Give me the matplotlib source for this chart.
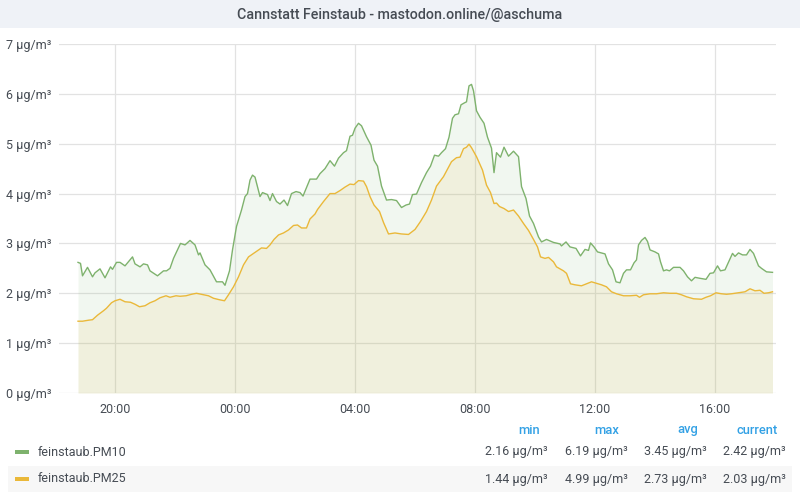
import matplotlib
matplotlib.use("Agg")
import matplotlib.pyplot as plt
from matplotlib.patches import Rectangle

# ---------------- data ----------------
pm10_times = ["18:46", "18:51", "18:55", "19:05", "19:15", "19:20", "19:30", "19:40", "19:51", "19:55",
              "20:03", "20:10", "20:20", "20:35", "20:40", "20:50", "20:57", "21:05", "21:10", "21:25",
              "21:37", "21:43", "21:50", "21:57", "22:11", "22:20", "22:30", "22:40", "22:47", "22:50",
              "23:00", "23:10", "23:23", "23:35", "23:40", "23:49", "23:55", "00:03", "00:13", "00:20",
              "00:25", "00:30", "00:35", "00:40", "00:50", "00:55", "01:05", "01:10", "01:15", "01:23",
              "01:30", "01:38", "01:45", "01:53", "02:02", "02:10", "02:16", "02:23", "02:30", "02:43",
              "02:50", "03:00", "03:10", "03:19", "03:27", "03:37", "03:43", "03:50", "03:55", "04:00",
              "04:07", "04:13", "04:23", "04:32", "04:38", "04:45", "04:53", "05:03", "05:13", "05:23",
              "05:33", "05:42", "05:49", "05:55", "06:03", "06:13", "06:23", "06:31", "06:39", "06:47",
              "06:53", "07:01", "07:08", "07:15", "07:20", "07:27", "07:32", "07:39", "07:43", "07:48",
              "07:53", "07:57", "08:03", "08:10", "08:18", "08:25", "08:33", "08:38", "08:43", "08:51",
              "08:58", "09:07", "09:17", "09:27", "09:33", "09:42", "09:49", "09:57", "10:07", "10:13",
              "10:23", "10:37", "10:50", "10:53", "11:02", "11:10", "11:22", "11:31", "11:40", "11:47",
              "11:51", "11:58", "12:05", "12:20", "12:27", "12:35", "12:42", "12:50", "12:57", "13:03",
              "13:11", "13:18", "13:23", "13:27", "13:33", "13:40", "13:45", "13:50", "14:00", "14:07",
              "14:11", "14:17", "14:23", "14:29", "14:37", "14:50", "14:57", "15:05", "15:13", "15:20",
              "15:30", "15:42", "15:50", "15:57", "16:05", "16:11", "16:20", "16:29", "16:35", "16:40",
              "16:47", "16:55", "17:03", "17:10", "17:17", "17:27", "17:33", "17:43", "17:55"]
pm10_values = [2.62, 2.60, 2.35, 2.52, 2.33, 2.41, 2.49, 2.31, 2.53, 2.48,
               2.62, 2.62, 2.55, 2.73, 2.59, 2.53, 2.59, 2.57, 2.45, 2.35,
               2.45, 2.45, 2.50, 2.70, 3.00, 2.97, 3.06, 2.97, 2.77, 2.81,
               2.57, 2.47, 2.23, 2.23, 2.16, 2.45, 2.87, 3.34, 3.67, 3.94,
               4.00, 4.27, 4.37, 4.33, 3.94, 4.02, 3.98, 3.86, 4.00, 3.84,
               3.79, 3.87, 3.76, 4.00, 4.04, 4.02, 3.95, 4.12, 4.29, 4.29,
               4.40, 4.50, 4.66, 4.55, 4.71, 4.82, 4.86, 5.15, 5.17, 5.31,
               5.41, 5.36, 5.14, 4.97, 4.67, 4.55, 4.15, 3.87, 3.88, 3.86,
               3.72, 3.77, 3.79, 3.98, 3.99, 4.22, 4.42, 4.55, 4.77, 4.75,
               4.82, 4.90, 5.13, 5.51, 5.58, 5.60, 5.78, 5.82, 5.84, 6.16,
               6.19, 6.06, 5.66, 5.53, 5.41, 5.13, 4.91, 4.42, 4.82, 4.73,
               4.93, 4.75, 4.85, 4.74, 4.14, 3.90, 3.55, 3.40, 3.13, 3.03,
               3.08, 3.02, 2.99, 2.95, 3.03, 2.93, 2.90, 2.75, 2.88, 2.86,
               3.01, 2.93, 2.83, 2.79, 2.59, 2.47, 2.23, 2.21, 2.40, 2.47,
               2.47, 2.61, 2.67, 2.97, 3.06, 3.12, 3.04, 2.87, 2.83, 2.79,
               2.63, 2.45, 2.47, 2.45, 2.52, 2.52, 2.45, 2.33, 2.25, 2.32,
               2.30, 2.28, 2.40, 2.41, 2.55, 2.45, 2.47, 2.67, 2.80, 2.74,
               2.81, 2.77, 2.77, 2.88, 2.80, 2.55, 2.50, 2.43, 2.42]

pm25_times = ["18:46", "18:55", "19:07", "19:15", "19:25", "19:37", "19:43", "19:53", "20:00", "20:10",
              "20:20", "20:31", "20:40", "20:49", "21:00", "21:10", "21:20", "21:30", "21:42", "21:50",
              "22:02", "22:10", "22:22", "22:33", "22:43", "22:53", "23:07", "23:17", "23:29", "23:39",
              "23:47", "23:57", "00:07", "00:17", "00:27", "00:37", "00:47", "00:53", "01:03", "01:10",
              "01:18", "01:27", "01:37", "01:47", "01:57", "02:05", "02:13", "02:23", "02:30", "02:40",
              "02:45", "02:57", "03:10", "03:20", "03:30", "03:40", "03:50", "03:58", "04:07", "04:17",
              "04:23", "04:30", "04:38", "04:49", "04:57", "05:07", "05:20", "05:33", "05:47", "06:00",
              "06:11", "06:23", "06:33", "06:43", "06:57", "07:13", "07:23", "07:30", "07:37", "07:43",
              "07:48", "07:53", "08:03", "08:15", "08:23", "08:31", "08:38", "08:43", "08:49", "08:58",
              "09:07", "09:17", "09:27", "09:37", "09:47", "09:57", "10:05", "10:11", "10:20", "10:27",
              "10:37", "10:43", "10:57", "11:03", "11:11", "11:20", "11:33", "11:43", "11:53", "12:03",
              "12:13", "12:23", "12:33", "12:43", "12:57", "13:10", "13:23", "13:29", "13:37", "13:50",
              "14:03", "14:17", "14:30", "14:43", "14:53", "15:03", "15:17", "15:33", "15:42", "15:51",
              "16:02", "16:13", "16:23", "16:33", "16:47", "17:00", "17:10", "17:20", "17:30", "17:38",
              "17:47", "17:55"]
pm25_values = [1.44, 1.44, 1.46, 1.47, 1.56, 1.65, 1.70, 1.81, 1.85, 1.88,
               1.83, 1.82, 1.78, 1.73, 1.75, 1.81, 1.85, 1.91, 1.95, 1.92,
               1.95, 1.94, 1.95, 1.98, 2.00, 1.98, 1.95, 1.90, 1.87, 1.85,
               1.97, 2.13, 2.33, 2.57, 2.73, 2.80, 2.87, 2.91, 2.90, 2.97,
               3.08, 3.17, 3.21, 3.27, 3.36, 3.37, 3.31, 3.31, 3.49, 3.59,
               3.68, 3.84, 4.00, 4.00, 4.06, 4.13, 4.19, 4.18, 4.26, 4.25,
               4.14, 3.94, 3.77, 3.64, 3.42, 3.19, 3.21, 3.19, 3.18, 3.28,
               3.44, 3.64, 3.87, 4.15, 4.34, 4.64, 4.72, 4.73, 4.90, 4.93,
               4.99, 4.92, 4.74, 4.47, 4.17, 4.02, 3.80, 3.81, 3.74, 3.70,
               3.64, 3.67, 3.55, 3.40, 3.26, 3.08, 2.93, 2.73, 2.70, 2.72,
               2.63, 2.53, 2.45, 2.40, 2.19, 2.17, 2.15, 2.19, 2.23, 2.20,
               2.17, 2.13, 2.03, 1.99, 1.95, 1.95, 1.96, 1.92, 1.97, 1.99,
               1.99, 2.01, 2.00, 2.00, 1.97, 1.93, 1.89, 1.88, 1.92, 1.95,
               2.01, 1.99, 1.98, 1.99, 2.01, 2.03, 2.09, 2.05, 2.06, 2.00,
               2.01, 2.03]

series_names = ["feinstaub.PM10", "feinstaub.PM25"]
stat_headers = ["min", "max", "avg", "current"]
stats_pm10 = ["2.16 µg/m³", "6.19 µg/m³", "3.45 µg/m³", "2.42 µg/m³"]
stats_pm25 = ["1.44 µg/m³", "4.99 µg/m³", "2.73 µg/m³", "2.03 µg/m³"]
x_tick_labels = ["20:00", "00:00", "04:00", "08:00", "12:00", "16:00"]
y_ticks = [0, 1, 2, 3, 4, 5, 6, 7]
title = "Cannstatt Feinstaub - mastodon.online/@aschuma"

# ---------------- helpers ----------------
def to_hours(t):
    h, m = t.split(":")
    v = int(h) + int(m) / 60.0
    return v - 24 if v >= 18 else v

W, H = 800, 500
GREEN = "#7eb26d"
YELLOW = "#eab839"
TEXT = "#464c54"
BLUE = "#33a1e5"

plt.rcParams["font.family"] = ["Roboto", "DejaVu Sans"]

fig = plt.figure(figsize=(W / 100, H / 100), dpi=100)
fig.patch.set_facecolor("white")

def fx(px):
    return px / W

def fy(py):
    return 1 - py / H

# title bar
fig.patches.append(Rectangle((0, fy(28)), 1, 28 / H, transform=fig.transFigure,
                             facecolor="#eff2f7", edgecolor="none", zorder=0))
fig.text(0.5, fy(14.5), title, ha="center", va="center", fontsize=10.3,
         fontweight="medium", color=TEXT)

# axes
left, right, top, bottom = 58.7, 776, 44, 393
ax = fig.add_axes([fx(left), fy(bottom), fx(right - left), (bottom - top) / H])
ax.set_facecolor("none")

x10 = [to_hours(t) for t in pm10_times]
x25 = [to_hours(t) for t in pm25_times]

ax.fill_between(x10, pm10_values, 0, color=GREEN, alpha=0.1, linewidth=0, zorder=2)
ax.plot(x10, pm10_values, color=GREEN, linewidth=1, zorder=4)
ax.fill_between(x25, pm25_values, 0, color=YELLOW, alpha=0.1, linewidth=0, zorder=3)
ax.plot(x25, pm25_values, color=YELLOW, linewidth=1, zorder=5)

ax.set_xlim(-5.877, 18.033)
ax.set_ylim(0, 7)
tick_pos = [to_hours(t) for t in x_tick_labels]
ax.set_xticks(tick_pos)
ax.set_xticklabels(x_tick_labels)
ax.set_yticks(y_ticks)
ax.set_yticklabels([f"{v} µg/m³" for v in y_ticks])
ax.tick_params(length=0, labelsize=9, colors=TEXT)
ax.tick_params(axis="y", pad=5)
ax.tick_params(axis="x", pad=7)
ax.grid(True, color="#e2e2e2", linewidth=0.9, zorder=1)
ax.set_axisbelow(True)
for s in ax.spines.values():
    s.set_visible(False)

# legend table
col_right = [540, 619, 698, 778]
val_right = [548, 628, 707, 786]
for hdr, xr in zip(stat_headers, col_right):
    fig.text(fx(xr), fy(430), hdr, ha="right", va="center", fontsize=9.3,
             fontweight="medium", color=BLUE)

rows = [(series_names[0], GREEN, stats_pm10, 452),
        (series_names[1], YELLOW, stats_pm25, 479)]
# background band for second row
fig.patches.append(Rectangle((fx(8), fy(492)), fx(784), 26 / H, transform=fig.transFigure,
                             facecolor="#f7f7f7", edgecolor="none", zorder=0))
for name, col, stats, yy in rows:
    fig.patches.append(Rectangle((fx(15), fy(yy + 2)), fx(14), 4 / H,
                                 transform=fig.transFigure, facecolor=col,
                                 edgecolor="none", zorder=1))
    fig.text(fx(38), fy(yy), name, ha="left", va="center", fontsize=9, color=TEXT)
    for v, xr in zip(stats, val_right):
        fig.text(fx(xr), fy(yy), v, ha="right", va="center", fontsize=9, color=TEXT)

fig.savefig("out.png", dpi=100, facecolor="white")
